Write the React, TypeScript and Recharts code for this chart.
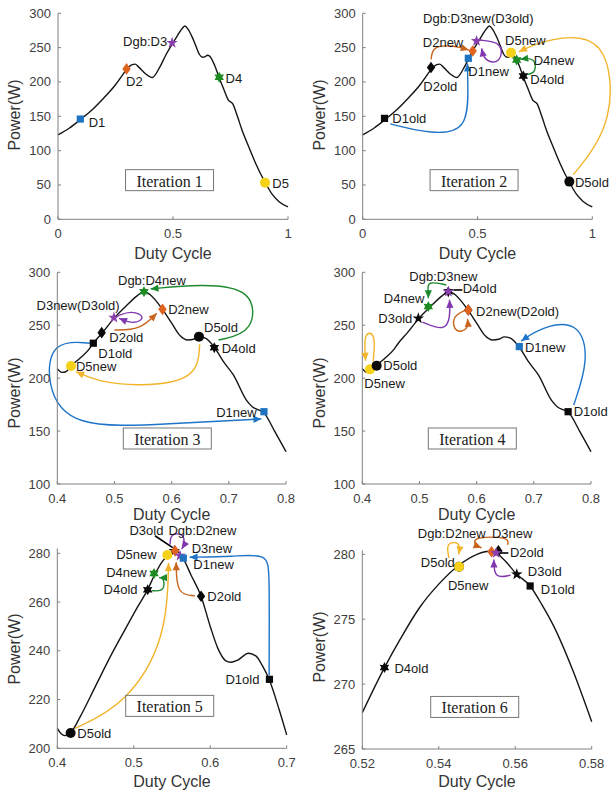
import React from 'react';
import { ComposedChart, Line, Scatter, XAxis, YAxis, ReferenceDot, ReferenceLine, Label } from 'recharts';

const SANS = '"Liberation Sans", Arial, Helvetica, sans-serif';
const SERIF = '"Liberation Serif", "Times New Roman", Times, serif';

const MARKER_COLORS: Record<number, string> = { 1: '#1F74C2', 2: '#E0621F', 3: '#8B3FAE', 4: '#1E8A22', 5: '#F5D11A' };
const ARROW_COLORS: Record<number, string> = { 1: '#1F74C8', 2: '#C8641C', 3: '#8037B0', 4: '#1E8A30', 5: '#F2B42A' };

// ---------- P-V curves ----------
const curve12 = [
  { x: 0.0, y: 123 }, { x: 0.05, y: 133 }, { x: 0.1, y: 146 }, { x: 0.15, y: 160 }, { x: 0.2, y: 177 },
  { x: 0.25, y: 196 }, { x: 0.28, y: 210 }, { x: 0.3, y: 219 }, { x: 0.32, y: 225 }, { x: 0.335, y: 226 },
  { x: 0.35, y: 222 }, { x: 0.38, y: 212 }, { x: 0.41, y: 206.5 }, { x: 0.44, y: 220 }, { x: 0.47, y: 240 },
  { x: 0.5, y: 257 }, { x: 0.52, y: 268 }, { x: 0.54, y: 278 }, { x: 0.552, y: 281.5 }, { x: 0.565, y: 277 },
  { x: 0.584, y: 265 }, { x: 0.6, y: 252 }, { x: 0.615, y: 240 }, { x: 0.628, y: 236 }, { x: 0.64, y: 237 },
  { x: 0.65, y: 239 }, { x: 0.66, y: 237.5 }, { x: 0.68, y: 225 }, { x: 0.7, y: 207 }, { x: 0.72, y: 190 },
  { x: 0.74, y: 174 }, { x: 0.76, y: 168 }, { x: 0.78, y: 150 }, { x: 0.8, y: 130 }, { x: 0.83, y: 105 },
  { x: 0.86, y: 81 }, { x: 0.9, y: 54 }, { x: 0.93, y: 37 }, { x: 0.96, y: 26 }, { x: 1.0, y: 18 },
];

const curve34 = [
  { x: 0.4, y: 209 }, { x: 0.408, y: 205.5 }, { x: 0.415, y: 206 }, { x: 0.424, y: 211.5 }, { x: 0.44, y: 219 },
  { x: 0.455, y: 227 }, { x: 0.463, y: 233 }, { x: 0.479, y: 243 }, { x: 0.499, y: 256.5 }, { x: 0.52, y: 268 },
  { x: 0.54, y: 278 }, { x: 0.552, y: 282 }, { x: 0.562, y: 279 }, { x: 0.584, y: 265 }, { x: 0.6, y: 252 },
  { x: 0.615, y: 240 }, { x: 0.628, y: 236 }, { x: 0.64, y: 237 }, { x: 0.648, y: 239 }, { x: 0.658, y: 238 },
  { x: 0.675, y: 229 }, { x: 0.69, y: 216 }, { x: 0.708, y: 203 }, { x: 0.731, y: 179 }, { x: 0.741, y: 173 },
  { x: 0.752, y: 170 }, { x: 0.76, y: 168 }, { x: 0.78, y: 150 }, { x: 0.8, y: 130.5 },
];

const curve5 = [
  { x: 0.4, y: 208.2 }, { x: 0.405, y: 206 }, { x: 0.41, y: 205.2 }, { x: 0.4174, y: 206.3 }, { x: 0.43, y: 213 },
  { x: 0.45, y: 225.5 }, { x: 0.47, y: 238 }, { x: 0.49, y: 249.5 }, { x: 0.505, y: 258 }, { x: 0.518, y: 265 },
  { x: 0.527, y: 271 }, { x: 0.537, y: 276.5 }, { x: 0.545, y: 279.4 }, { x: 0.553, y: 281 }, { x: 0.558, y: 280.6 },
  { x: 0.564, y: 278.2 }, { x: 0.575, y: 271 }, { x: 0.588, y: 262.4 }, { x: 0.6, y: 250 }, { x: 0.61, y: 241 },
  { x: 0.62, y: 236 }, { x: 0.627, y: 235.3 }, { x: 0.636, y: 236.2 }, { x: 0.65, y: 239 }, { x: 0.66, y: 237.8 },
  { x: 0.668, y: 234 }, { x: 0.677, y: 228.3 }, { x: 0.69, y: 216 }, { x: 0.7, y: 205.5 },
];

const curve6 = [
  { x: 0.52, y: 267.8 }, { x: 0.5258, y: 271.27 }, { x: 0.53, y: 273.5 }, { x: 0.535, y: 275.9 }, { x: 0.54, y: 277.7 },
  { x: 0.545, y: 279.1 }, { x: 0.55, y: 280.0 }, { x: 0.554, y: 280.25 }, { x: 0.557, y: 279.6 }, { x: 0.5604, y: 278.46 },
  { x: 0.5639, y: 277.56 }, { x: 0.567, y: 276.1 }, { x: 0.57, y: 274.5 }, { x: 0.575, y: 271.1 }, { x: 0.58, y: 267.1 },
];

// ---------- markers (d = design point index, old = previous position) ----------
const markers1 = [
  { x: 0.097, y: 146, d: 1, old: false }, { x: 0.298, y: 219, d: 2, old: false }, { x: 0.496, y: 257, d: 3, old: false },
  { x: 0.701, y: 206.8, d: 4, old: false }, { x: 0.9, y: 53.4, d: 5, old: false },
];
const markers2 = [
  { x: 0.095, y: 147, d: 1, old: true }, { x: 0.2975, y: 221, d: 2, old: true }, { x: 0.6996, y: 208.7, d: 4, old: true },
  { x: 0.9, y: 54.9, d: 5, old: true }, { x: 0.46, y: 234.5, d: 1, old: false }, { x: 0.479, y: 245.1, d: 2, old: false },
  { x: 0.496, y: 259.7, d: 3, old: false }, { x: 0.6705, y: 232, d: 4, old: false }, { x: 0.646, y: 242.7, d: 5, old: false },
];
const markers3 = [
  { x: 0.463, y: 233, d: 1, old: true }, { x: 0.4776, y: 243, d: 2, old: true }, { x: 0.6478, y: 239.2, d: 5, old: true },
  { x: 0.6746, y: 228.8, d: 4, old: true }, { x: 0.499, y: 257.2, d: 3, old: false }, { x: 0.424, y: 211.5, d: 5, old: false },
  { x: 0.5516, y: 281.7, d: 4, old: false }, { x: 0.584, y: 265, d: 2, old: false }, { x: 0.7615, y: 168.3, d: 1, old: false },
];
const markers4 = [
  { x: 0.4134, y: 208.3, d: 5, old: false }, { x: 0.4251, y: 211.8, d: 5, old: true }, { x: 0.498, y: 256.5, d: 3, old: true },
  { x: 0.5504, y: 281.7, d: 4, old: true }, { x: 0.5854, y: 264.4, d: 2, old: true }, { x: 0.76, y: 168.3, d: 1, old: true },
  { x: 0.5155, y: 267.6, d: 4, old: false }, { x: 0.5504, y: 281.7, d: 3, old: false }, { x: 0.5854, y: 264.4, d: 2, old: false },
  { x: 0.6746, y: 229.8, d: 1, old: false },
];
const markers5 = [
  { x: 0.4174, y: 206.3, d: 5, old: true }, { x: 0.5182, y: 265, d: 4, old: true }, { x: 0.553, y: 281, d: 3, old: true },
  { x: 0.588, y: 262.4, d: 2, old: true }, { x: 0.6774, y: 228.3, d: 1, old: true }, { x: 0.5265, y: 271.7, d: 4, old: false },
  { x: 0.5439, y: 279.3, d: 5, old: false }, { x: 0.554, y: 281, d: 2, old: false }, { x: 0.5605, y: 279, d: 3, old: false },
  { x: 0.5648, y: 278, d: 1, old: false },
];
const markers6 = [
  { x: 0.5556, y: 280.26, d: 2, old: true }, { x: 0.5258, y: 271.27, d: 4, old: true }, { x: 0.5453, y: 279.05, d: 5, old: true },
  { x: 0.5604, y: 278.46, d: 3, old: true }, { x: 0.5639, y: 277.56, d: 1, old: true }, { x: 0.5453, y: 279.05, d: 5, old: false },
  { x: 0.5538, y: 280.2, d: 2, old: false }, { x: 0.555, y: 280.1, d: 3, old: false },
];

// ---------- text annotations ----------
const labels1 = [
  { text: 'D1', x: 0.1335, y: 140.8, a: 'start' }, { text: 'D2', x: 0.296, y: 200.5, a: 'start' },
  { text: 'Dgb:D3', x: 0.4746, y: 258.7, a: 'end' }, { text: 'D4', x: 0.7286, y: 204.9, a: 'start' },
  { text: 'D5', x: 0.9318, y: 52.4, a: 'start' },
];
const labels2 = [
  { text: 'D1old', x: 0.129, y: 147, a: 'start' }, { text: 'D2old', x: 0.264, y: 194, a: 'start' },
  { text: 'Dgb:D3new(D3old)', x: 0.5036, y: 292.7, a: 'middle' }, { text: 'D2new', x: 0.438, y: 257.3, a: 'end' },
  { text: 'D1new', x: 0.46, y: 215, a: 'start' }, { text: 'D5new', x: 0.62, y: 261, a: 'start' },
  { text: 'D4new', x: 0.7446, y: 230.6, a: 'start' }, { text: 'D4old', x: 0.73, y: 203.9, a: 'start' },
  { text: 'D5old', x: 0.9245, y: 53.4, a: 'start' },
];
const labels3 = [
  { text: 'Dgb:D4new', x: 0.5656, y: 291.8, a: 'middle' }, { text: 'D3new(D3old)', x: 0.509, y: 268.3, a: 'end' },
  { text: 'D2new', x: 0.594, y: 265, a: 'start' }, { text: 'D2old', x: 0.491, y: 238, a: 'start' },
  { text: 'D1old', x: 0.4717, y: 223.5, a: 'start' }, { text: 'D5new', x: 0.4327, y: 211, a: 'start' },
  { text: 'D5old', x: 0.6566, y: 247.7, a: 'start' }, { text: 'D4old', x: 0.6875, y: 228, a: 'start' },
  { text: 'D1new', x: 0.7487, y: 167.4, a: 'end' },
];
const labels4 = [
  { text: 'Dgb:D3new', x: 0.5417, y: 296.4, a: 'middle' }, { text: 'D4old', x: 0.5755, y: 284.3, a: 'start' },
  { text: 'D4new', x: 0.5085, y: 275.4, a: 'end' }, { text: 'D3old', x: 0.4875, y: 256.5, a: 'end' },
  { text: 'D2new(D2old)', x: 0.599, y: 262.8, a: 'start' }, { text: 'D1new', x: 0.6845, y: 229, a: 'start' },
  { text: 'D1old', x: 0.7697, y: 168.3, a: 'start' }, { text: 'D5old', x: 0.4367, y: 212.4, a: 'start' },
  { text: 'D5new', x: 0.4035, y: 195, a: 'start' },
];
const labels5 = [
  { text: 'D5old', x: 0.4262, y: 206.2, a: 'start' }, { text: 'D4old', x: 0.505, y: 265, a: 'end' },
  { text: 'D4new', x: 0.5169, y: 272, a: 'end' }, { text: 'D5new', x: 0.53, y: 279.3, a: 'end' },
  { text: 'D3old', x: 0.5165, y: 289.2, a: 'middle' }, { text: 'Dgb:D2new', x: 0.5897, y: 289.2, a: 'middle' },
  { text: 'D3new', x: 0.5757, y: 281.8, a: 'start' }, { text: 'D1new', x: 0.5779, y: 275.2, a: 'start' },
  { text: 'D2old', x: 0.5962, y: 262.4, a: 'start' }, { text: 'D1old', x: 0.6643, y: 228.3, a: 'end' },
];
const labels6 = [
  { text: 'D4old', x: 0.5284, y: 271.2, a: 'start' }, { text: 'D5new', x: 0.5477, y: 277.6, a: 'middle' },
  { text: 'D5old', x: 0.5442, y: 279.4, a: 'end' }, { text: 'Dgb:D2new', x: 0.5434, y: 281.6, a: 'middle' },
  { text: 'D3new', x: 0.5592, y: 281.6, a: 'middle' }, { text: 'D2old', x: 0.5586, y: 280.1, a: 'start' },
  { text: 'D3old', x: 0.5633, y: 278.67, a: 'start' }, { text: 'D1old', x: 0.5667, y: 277.3, a: 'start' },
];

// ---------- movement arrows (B-spline control points) ----------
const arrows1: { d: number; pts: { x: number; y: number }[] }[] = [];
const arrows2 = [
  { d: 1, pts: [{ x: 0.12, y: 139 }, { x: 0.3, y: 124 }, { x: 0.46, y: 128 }, { x: 0.458, y: 200 }, { x: 0.456, y: 227 }] },
  { d: 2, pts: [{ x: 0.298, y: 233 }, { x: 0.305, y: 253 }, { x: 0.4, y: 253 }, { x: 0.462, y: 246.5 }] },
  { d: 3, pts: [{ x: 0.504, y: 261 }, { x: 0.615, y: 258 }, { x: 0.6, y: 226 }, { x: 0.53, y: 230 }, { x: 0.518, y: 249 }] },
  { d: 4, pts: [{ x: 0.715, y: 211 }, { x: 0.755, y: 213 }, { x: 0.752, y: 236 }, { x: 0.686, y: 233 }] },
  { d: 5, pts: [{ x: 0.917, y: 65 }, { x: 1.1, y: 140 }, { x: 1.07, y: 272 }, { x: 0.8, y: 263 }, { x: 0.68, y: 244 }] },
];
const arrows3 = [
  { d: 1, pts: [{ x: 0.458, y: 233 }, { x: 0.39, y: 236 }, { x: 0.38, y: 195 }, { x: 0.42, y: 152 }, { x: 0.6, y: 157 }, { x: 0.757, y: 161.5 }] },
  { d: 2, pts: [{ x: 0.5, y: 245.5 }, { x: 0.545, y: 245.5 }, { x: 0.574, y: 261.3 }] },
  { d: 3, pts: [{ x: 0.506, y: 259 }, { x: 0.53, y: 264 }, { x: 0.556, y: 258 }, { x: 0.535, y: 250.5 }, { x: 0.508, y: 256.5 }] },
  { d: 4, pts: [{ x: 0.682, y: 236 }, { x: 0.745, y: 243 }, { x: 0.745, y: 285 }, { x: 0.65, y: 289 }, { x: 0.563, y: 284.3 }] },
  { d: 5, pts: [{ x: 0.649, y: 232 }, { x: 0.645, y: 198 }, { x: 0.54, y: 192 }, { x: 0.47, y: 197 }, { x: 0.433, y: 206 }] },
];
const arrows4 = [
  { d: 4, pts: [{ x: 0.547, y: 288 }, { x: 0.513, y: 292 }, { x: 0.5155, y: 282 }, { x: 0.5155, y: 275.4 }] },
  { d: 3, pts: [{ x: 0.505, y: 253 }, { x: 0.545, y: 244 }, { x: 0.554, y: 258 }, { x: 0.5525, y: 274 }] },
  { d: 2, pts: [{ x: 0.58, y: 264 }, { x: 0.556, y: 258 }, { x: 0.562, y: 242 }, { x: 0.586, y: 246 }, { x: 0.584, y: 256 }] },
  { d: 1, pts: [{ x: 0.7697, y: 174.6 }, { x: 0.797, y: 218 }, { x: 0.78, y: 254 }, { x: 0.715, y: 249 }, { x: 0.678, y: 235 }] },
  { d: 5, pts: [{ x: 0.419, y: 216 }, { x: 0.424, y: 243 }, { x: 0.402, y: 244 }, { x: 0.4058, y: 216.5 }] },
];
const arrows5 = [
  { d: 1, pts: [{ x: 0.677, y: 230 }, { x: 0.6775, y: 272 }, { x: 0.675, y: 280 }, { x: 0.63, y: 278.6 }, { x: 0.573, y: 278.4 }] },
  { d: 2, pts: [{ x: 0.58, y: 262.6 }, { x: 0.556, y: 263 }, { x: 0.5555, y: 276.3 }] },
  { d: 3, pts: [{ x: 0.5475, y: 283.6 }, { x: 0.548, y: 288.3 }, { x: 0.5665, y: 288 }, { x: 0.5655, y: 283.2 }, { x: 0.5627, y: 281.8 }] },
  { d: 4, pts: [{ x: 0.5234, y: 264.7 }, { x: 0.5405, y: 264.3 }, { x: 0.5395, y: 270 }, { x: 0.533, y: 270 }] },
  { d: 5, pts: [{ x: 0.4231, y: 208.2 }, { x: 0.49, y: 218 }, { x: 0.543, y: 245 }, { x: 0.5455, y: 276 }] },
];
const arrows6 = [
  { d: 2, pts: [{ x: 0.558, y: 280.72 }, { x: 0.5585, y: 281.35 }, { x: 0.549, y: 281.35 }, { x: 0.5494, y: 280.7 }, { x: 0.5512, y: 280.5 }] },
  { d: 5, pts: [{ x: 0.5427, y: 279.7 }, { x: 0.5418, y: 280.95 }, { x: 0.5458, y: 280.95 }, { x: 0.5452, y: 280.0 }] },
  { d: 3, pts: [{ x: 0.5588, y: 278.4 }, { x: 0.5545, y: 278.1 }, { x: 0.5544, y: 279.6 }] },
];

// ---------- leader lines ----------
const leaders4 = [{ x1: 0.5592, y1: 283.3, x2: 0.5749, y2: 283.3 }];
const leaders5 = [{ x1: 0.5278, y1: 287.2, x2: 0.5509, y2: 282.3 }];
const leaders6 = [{ x1: 0.5558, y1: 280.1, x2: 0.5582, y2: 280.1 }];

// ---------- axes ----------
const xTicks12 = [0, 0.5, 1];
const yTicks12 = [0, 50, 100, 150, 200, 250, 300];
const xTicks34 = [0.4, 0.5, 0.6, 0.7, 0.8];
const yTicks34 = [100, 150, 200, 250, 300];
const xTicks5 = [0.4, 0.5, 0.6, 0.7];
const yTicks5 = [200, 220, 240, 260, 280];
const xTicks6 = [0.52, 0.54, 0.56, 0.58];
const yTicks6 = [265, 270, 275, 280];

const iterBoxes = [
  { x: 0.485, y: 57, text: 'Iteration 1' },
  { x: 0.485, y: 57, text: 'Iteration 2' },
  { x: 0.5924, y: 143, text: 'Iteration 3' },
  { x: 0.5924, y: 143, text: 'Iteration 4' },
  { x: 0.547, y: 217.4, text: 'Iteration 5' },
  { x: 0.5494, y: 268.24, text: 'Iteration 6' },
];

// ---------- drawing helpers ----------
function starPath(cx: number, cy: number, n: number, R: number, r: number) {
  let d = '';
  for (let i = 0; i < 2 * n; i++) {
    const rad = i % 2 === 0 ? R : r;
    const a = -Math.PI / 2 + (i * Math.PI) / n;
    d += (i ? 'L' : 'M') + (cx + rad * Math.cos(a)).toFixed(2) + ',' + (cy + rad * Math.sin(a)).toFixed(2);
  }
  return d + 'Z';
}

function renderMarker(p: any) {
  const { cx, cy, payload } = p;
  if (cx == null || cy == null) return <g />;
  const fill = payload.old ? '#0a0a0a' : MARKER_COLORS[payload.d];
  switch (payload.d) {
    case 1:
      return <rect x={cx - 3.6} y={cy - 3.6} width={7.2} height={7.2} fill={fill} />;
    case 2:
      return <path d={`M${cx},${cy - 5.8}L${cx + 4.2},${cy}L${cx},${cy + 5.8}L${cx - 4.2},${cy}Z`} fill={fill} />;
    case 3:
      return <path d={starPath(cx, cy, 5, 6, 2.4)} fill={fill} />;
    case 4:
      return <path d={starPath(cx, cy, 6, 5.5, 3.1)} fill={fill} />;
    default:
      return <circle cx={cx} cy={cy} r={5} fill={fill} />;
  }
}

const makeArrowDot = (color: string) => (props: any) => {
  const { cx, cy, index, points } = props;
  const key = props.key ?? `ad-${index}`;
  if (!points || index !== points.length - 1 || index < 1) return <g key={key} />;
  const prev = points[index - 1];
  const ang = Math.atan2(cy - prev.y, cx - prev.x);
  const L = 8, W = 3.6;
  const c = Math.cos(ang), s = Math.sin(ang);
  const bx = cx - L * c, by = cy - L * s;
  const d = `M${cx},${cy}L${bx - W * s},${by + W * c}L${bx + W * s},${by - W * c}Z`;
  return <path key={key} d={d} fill={color} stroke="none" />;
};

type Cfg = {
  left: number; top: number; w: number; h: number;
  pl: number; pt: number; pr: number; pb: number;
  xDomain: [number, number]; yDomain: [number, number];
  xTicks: number[]; yTicks: number[];
  curve: { x: number; y: number }[];
  markers: any[]; labels: any[]; arrows: any[]; leaders: any[];
  box: { x: number; y: number; text: string };
  ylabY: number; xlabDy: number;
};

const YW = 40;
const XH = 30;

function Panel({ cfg }: { cfg: Cfg }) {
  const { left, top, w, h, pl, pt, pr, pb } = cfg;
  const margin = { left: pl - YW, top: pt, right: w - pr, bottom: h - pb - XH };
  const xTick = (p: any) => (
    <g>
      <line x1={p.x} x2={p.x} y1={p.y} y2={p.y - 3} stroke="#808080" />
      <text x={p.x} y={p.y + 14} textAnchor="middle" dominantBaseline="central" fontSize={13} fontFamily={SANS} fill="#404040">
        {String(p.payload.value)}
      </text>
    </g>
  );
  const yTick = (p: any) => (
    <g>
      <line x1={p.x} x2={p.x + 3} y1={p.y} y2={p.y} stroke="#808080" />
      <text x={p.x - 7} y={p.y} textAnchor="end" dominantBaseline="central" fontSize={13} fontFamily={SANS} fill="#404040">
        {String(p.payload.value)}
      </text>
    </g>
  );
  const xTitle = () => (
    <text x={(pl + pr) / 2} y={pb + cfg.xlabDy} textAnchor="middle" dominantBaseline="central" fontSize={16} fontFamily={SANS} fill="#333">
      Duty Cycle
    </text>
  );
  const yTitle = () => (
    <text x={14} y={cfg.ylabY} transform={`rotate(-90 14 ${cfg.ylabY})`} textAnchor="middle" dominantBaseline="central" fontSize={16} fontFamily={SANS} fill="#333">
      Power(W)
    </text>
  );
  return (
    <div style={{ position: 'absolute', left, top, width: w, height: h }}>
      <ComposedChart width={w} height={h} margin={margin}>
        <XAxis
          type="number" dataKey="x" domain={cfg.xDomain} allowDataOverflow ticks={cfg.xTicks} interval={0}
          height={XH} tickSize={0} tickMargin={0} tickLine={false} tick={xTick} stroke="#808080"
          label={<Label content={xTitle} />}
        />
        <YAxis
          type="number" dataKey="y" domain={cfg.yDomain} allowDataOverflow ticks={cfg.yTicks} interval={0}
          width={YW} tickSize={0} tickMargin={0} tickLine={false} tick={yTick} stroke="#808080"
          label={<Label content={yTitle} />}
        />
        <ReferenceDot
          x={cfg.box.x} y={cfg.box.y} r={0} ifOverflow="visible"
          shape={(p: any) => (
            <g>
              <rect x={p.cx - 44} y={p.cy - 10.5} width={88} height={21} fill="#fff" stroke="#777" strokeWidth={1} />
              <text x={p.cx} y={p.cy + 1} textAnchor="middle" dominantBaseline="central" fontSize={16} fontFamily={SERIF} fill="#222">
                {cfg.box.text}
              </text>
            </g>
          )}
        />
        <Line data={cfg.curve} dataKey="y" type="monotone" stroke="#151515" strokeWidth={1.4} dot={false} activeDot={false} isAnimationActive={false} />
        {cfg.arrows.map((a: any, i: number) => (
          <Line
            key={`arr-${i}`} data={a.pts} dataKey="y" type="basis" stroke={ARROW_COLORS[a.d]} strokeWidth={1.4}
            dot={makeArrowDot(ARROW_COLORS[a.d])} activeDot={false} isAnimationActive={false}
          />
        ))}
        {cfg.leaders.map((l: any, i: number) => (
          <ReferenceLine
            key={`ld-${i}`} segment={[{ x: l.x1, y: l.y1 }, { x: l.x2, y: l.y2 }]} stroke="#000" strokeWidth={1.6} ifOverflow="visible"
          />
        ))}
        <Scatter data={cfg.markers} shape={renderMarker} isAnimationActive={false} />
        {cfg.labels.map((t: any, i: number) => (
          <ReferenceDot
            key={`lb-${i}`} x={t.x} y={t.y} r={0} ifOverflow="visible"
            shape={(p: any) => (
              <text x={p.cx} y={p.cy} textAnchor={t.a} dominantBaseline="central" fontSize={13} fontFamily={SANS} fill="#1a1a1a">
                {t.text}
              </text>
            )}
          />
        ))}
      </ComposedChart>
    </div>
  );
}

const panels: Cfg[] = [
  { left: 0, top: 0, w: 305, h: 265, pl: 58, pt: 13.3, pr: 288, pb: 219.3, xDomain: [0, 1], yDomain: [0, 300], xTicks: xTicks12, yTicks: yTicks12, curve: curve12, markers: markers1, labels: labels1, arrows: arrows1, leaders: [], box: iterBoxes[0], ylabY: 115, xlabDy: 34 },
  { left: 305, top: 0, w: 306, h: 265, pl: 57.7, pt: 13.3, pr: 287.3, pb: 219.3, xDomain: [0, 1], yDomain: [0, 300], xTicks: xTicks12, yTicks: yTicks12, curve: curve12, markers: markers2, labels: labels2, arrows: arrows2, leaders: [], box: iterBoxes[1], ylabY: 115, xlabDy: 34 },
  { left: 0, top: 265, w: 305, h: 260, pl: 57.3, pt: 7.3, pr: 286, pb: 219, xDomain: [0.4, 0.8], yDomain: [100, 300], xTicks: xTicks34, yTicks: yTicks34, curve: curve34, markers: markers3, labels: labels3, arrows: arrows3, leaders: [], box: iterBoxes[2], ylabY: 128, xlabDy: 30 },
  { left: 305, top: 265, w: 306, h: 260, pl: 57.3, pt: 7.3, pr: 286, pb: 219, xDomain: [0.4, 0.8], yDomain: [100, 300], xTicks: xTicks34, yTicks: yTicks34, curve: curve34, markers: markers4, labels: labels4, arrows: arrows4, leaders: leaders4, box: iterBoxes[3], ylabY: 128, xlabDy: 30 },
  { left: 0, top: 525, w: 305, h: 269, pl: 57.3, pt: 23.4, pr: 286.7, pb: 223.3, xDomain: [0.4, 0.7], yDomain: [200, 282], xTicks: xTicks5, yTicks: yTicks5, curve: curve5, markers: markers5, labels: labels5, arrows: arrows5, leaders: leaders5, box: iterBoxes[4], ylabY: 124, xlabDy: 33.4 },
  { left: 305, top: 525, w: 306, h: 269, pl: 57.3, pt: 25.4, pr: 286.7, pb: 224, xDomain: [0.52, 0.58], yDomain: [265, 280.3], xTicks: xTicks6, yTicks: yTicks6, curve: curve6, markers: markers6, labels: labels6, arrows: arrows6, leaders: leaders6, box: iterBoxes[5], ylabY: 122, xlabDy: 32.7 },
];

export default function App() {
  return (
    <div style={{ position: 'fixed', left: 0, top: 0, width: 611, height: 794, background: '#fff', overflow: 'hidden' }}>
      <style>{'.recharts-surface *{clip-path:none !important;} .recharts-surface{overflow:visible;}'}</style>
      {panels.map((c, i) => (
        <Panel key={i} cfg={c} />
      ))}
    </div>
  );
}
